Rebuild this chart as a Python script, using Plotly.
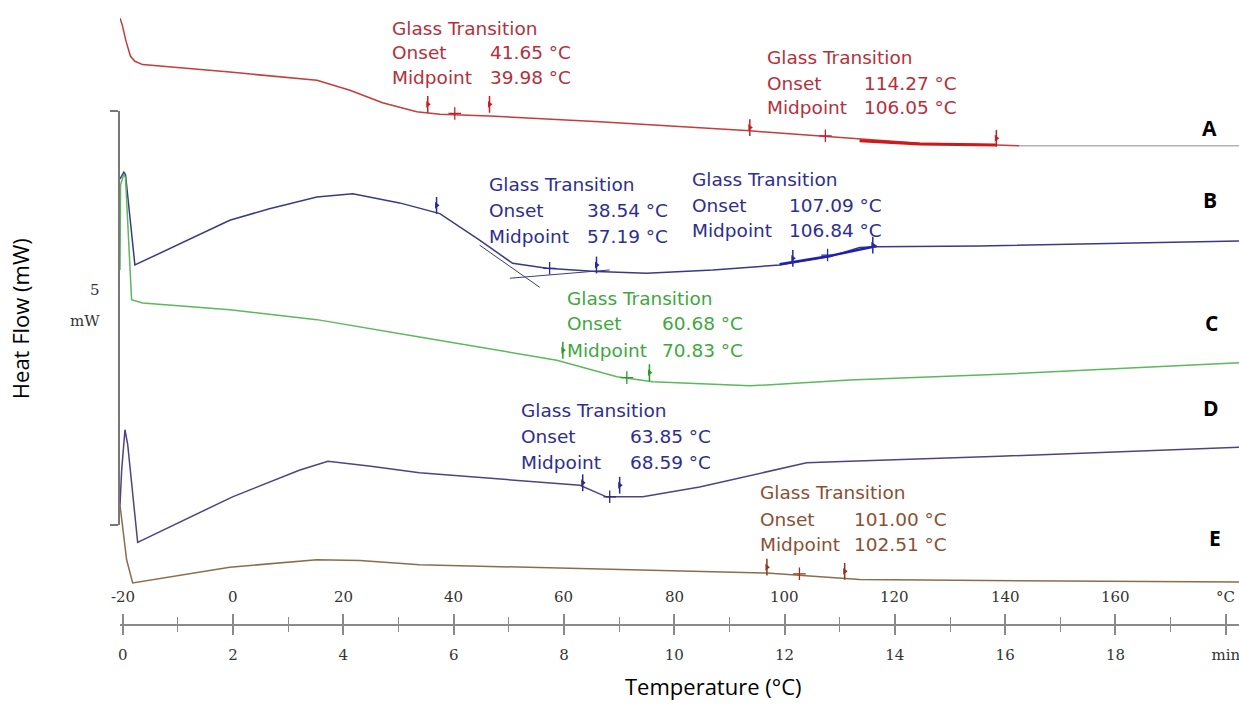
import plotly.graph_objects as go

# ---------------- data ----------------
temp_ticks = [-20, 0, 20, 40, 60, 80, 100, 120, 140, 160, 180]
temp_labels = ["-20", "0", "20", "40", "60", "80", "100", "120", "140", "160", "°C"]
time_ticks = [0, 2, 4, 6, 8, 10, 12, 14, 16, 18, 20]
time_labels = ["0", "2", "4", "6", "8", "10", "12", "14", "16", "18", "min"]

# curve A (red)
A_T = [-20.5, -20.1, -19.4, -18.6, -17.8, -16.4, -0.6, 15.2, 21.2, 27.1, 33.3, 37.5, 46.5, 66.5,
       93.7, 107.6, 124.5, 138.4, 142.6, 182.4]
A_HF = [6.12, 6.04, 5.84, 5.66, 5.60, 5.56, 5.47, 5.37, 5.25, 5.10, 4.99, 4.96, 4.94, 4.87,
        4.76, 4.69, 4.61, 4.59, 4.58, 4.58]
# curve B (navy)
B_T = [-20.5, -19.8, -19.5, -17.8, -0.6, 6.6, 15.2, 21.7, 30.2, 33.8, 37.5, 44.7, 50.7, 56.9,
       65.9, 75.0, 87.0, 99.1, 108.2, 113.6, 116.7, 135.4, 182.4]
B_HF = [4.18, 4.26, 4.23, 3.14, 3.68, 3.82, 3.96, 4.00, 3.89, 3.83, 3.76, 3.44, 3.16, 3.10,
        3.06, 3.04, 3.08, 3.14, 3.24, 3.35, 3.36, 3.37, 3.43]
# curve C (green)
C_T = [-20.5, -20.4, -19.8, -19.5, -18.4, -16.4, -0.6, 15.2, 33.8, 58.7, 69.6, 76.1, 93.7,
       111.8, 139.0, 182.4]
C_HF = [3.08, 4.11, 4.24, 4.19, 2.72, 2.68, 2.60, 2.48, 2.27, 1.99, 1.79, 1.73, 1.68,
        1.75, 1.82, 1.96]
# curve D (purple-navy)
D_T = [-20.5, -20.2, -19.6, -19.1, -17.3, -0.1, 12.0, 17.2, 25.0, 33.8, 62.9, 67.7, 74.3,
       84.6, 104.0, 111.8, 139.0, 182.4]
D_HF = [0.24, 0.66, 1.15, 0.97, -0.21, 0.34, 0.66, 0.77, 0.71, 0.63, 0.48, 0.34, 0.34,
        0.46, 0.75, 0.77, 0.83, 0.94]
# curve E (brown)
E_T = [-20.5, -19.3, -18.2, -0.6, 15.2, 23.0, 33.8, 96.8, 113.6, 182.4]
E_HF = [0.24, -0.42, -0.70, -0.51, -0.42, -0.43, -0.48, -0.58, -0.66, -0.69]

# glass-transition evaluation marks
A_flag_T = [35.3, 46.5, 93.7, 138.4]
A_flag_HF = [5.08, 5.08, 4.80, 4.67]
A_mid_T = [40.2, 107.4]
A_mid_HF = [4.97, 4.70]
A_eval_T = [113.6, 124.5, 138.4]
A_eval_HF = [4.64, 4.60, 4.59]
B_flag_T = [36.9, 65.9, 101.5, 116.0]
B_flag_HF = [3.86, 3.14, 3.22, 3.38]
B_mid_T = [57.4, 107.8]
B_mid_HF = [3.10, 3.26]
B_eval_T = [99.1, 108.2, 116.7]
B_eval_HF = [3.15, 3.25, 3.37]
B_tan1_T = [44.7, 55.6]
B_tan1_HF = [3.38, 2.87]
B_tan2_T = [50.2, 68.3]
B_tan2_HF = [2.98, 3.08]
C_flag_T = [59.8, 75.5]
C_flag_HF = [2.11, 1.84]
C_mid_T = [71.4]
C_mid_HF = [1.78]
D_flag_T = [63.4, 70.1]
D_flag_HF = [0.51, 0.48]
D_mid_T = [68.3]
D_mid_HF = [0.34]
E_flag_T = [96.8, 110.9]
E_flag_HF = [-0.51, -0.56]
E_mid_T = [102.7]
E_mid_HF = [-0.59]

# annotation text
gt_title = "Glass Transition"
A1_vals = ["41.65 °C", "39.98 °C"]
A2_vals = ["114.27 °C", "106.05 °C"]
B1_vals = ["38.54 °C", "57.19 °C"]
B2_vals = ["107.09 °C", "106.84 °C"]
C_vals = ["60.68 °C", "70.83 °C"]
D_vals = ["63.85 °C", "68.59 °C"]
E_vals = ["101.00 °C", "102.51 °C"]
curve_letters = ["A", "B", "C", "D", "E"]

# ---------------- style ----------------
A_line, A_text, A_tail = "#c43c3c", "#b5303c", "#b8b0b0"
B_line, B_text = "#3a3a84", "#2e2e90"
C_line, C_text = "#5cb85c", "#3ea83e"
D_line, D_text = "#52427f", "#2e2e90"
E_line, E_text = "#8c6d4a", "#8b5032"
axis_col = "#8a8a8a"

x_min, x_max = -20.5, 182.4

fig = go.Figure()


def curve(T, HF, color, width=1.5):
    fig.add_trace(go.Scatter(x=T, y=HF, mode="lines", line=dict(color=color, width=width),
                             hoverinfo="skip", showlegend=False))


def marks(fT, fHF, mT, mHF, color):
    fig.add_trace(go.Scatter(x=fT, y=fHF, mode="markers",
                             marker=dict(symbol="line-ns", size=12, line=dict(color=color, width=1.5)),
                             hoverinfo="skip", showlegend=False))
    fig.add_trace(go.Scatter(x=fT, y=fHF, mode="markers",
                             marker=dict(symbol="triangle-right", size=6, color=color),
                             hoverinfo="skip", showlegend=False))
    fig.add_trace(go.Scatter(x=mT, y=mHF, mode="markers",
                             marker=dict(symbol="cross-thin", size=9, line=dict(color=color, width=1.3)),
                             hoverinfo="skip", showlegend=False))


cut = A_T.index(142.6)
curve(A_T[:cut + 1], A_HF[:cut + 1], A_line)
curve(A_T[cut:], A_HF[cut:], A_tail)
curve(A_eval_T, A_eval_HF, "#d01818", 3)
curve(B_T, B_HF, B_line)
curve(B_eval_T, B_eval_HF, "#2020b0", 2.5)
curve(B_tan1_T, B_tan1_HF, B_line, 1)
curve(B_tan2_T, B_tan2_HF, B_line, 1)
curve(C_T, C_HF, C_line)
curve(D_T, D_HF, D_line)
curve(E_T, E_HF, E_line)

marks(A_flag_T, A_flag_HF, A_mid_T, A_mid_HF, "#c81e2a")
marks(B_flag_T, B_flag_HF, B_mid_T, B_mid_HF, "#2828a0")
marks(C_flag_T, C_flag_HF, C_mid_T, C_mid_HF, "#2e9a2e")
marks(D_flag_T, D_flag_HF, D_mid_T, D_mid_HF, "#2a2a80")
marks(E_flag_T, E_flag_HF, E_mid_T, E_mid_HF, "#8b3a1a")

# helper traces for the scale bar axis and the time axis
fig.add_trace(go.Scatter(x=[x_min], y=[0], yaxis="y2", mode="markers", marker=dict(opacity=0),
                         hoverinfo="skip", showlegend=False))
fig.add_trace(go.Scatter(x=[0], y=[0], xaxis="x2", mode="markers", marker=dict(opacity=0),
                         hoverinfo="skip", showlegend=False))

# glass transition text blocks
text_font = "DejaVu Sans"
blocks = [
    (28.4, 46.2, [6.00, 5.71, 5.41], A1_vals, A_text),
    (96.4, 114.0, [5.64, 5.33, 5.04], A2_vals, A_text),
    (46.0, 63.8, [4.11, 3.80, 3.49], B1_vals, B_text),
    (82.8, 100.4, [4.17, 3.86, 3.56], B2_vals, B_text),
    (60.1, 77.5, [2.74, 2.43, 2.11], C_vals, C_text),
    (51.8, 71.6, [1.38, 1.07, 0.76], D_vals, D_text),
    (95.1, 112.2, [0.39, 0.07, -0.24], E_vals, E_text),
]
for xl, xv, ys, vals, col in blocks:
    f = dict(family=text_font, size=18.5, color=col)
    for txt, yy in zip([gt_title, "Onset", "Midpoint"], ys):
        fig.add_annotation(x=xl, y=yy, text=txt, showarrow=False, xanchor="left",
                           yanchor="middle", font=f)
    for txt, yy in zip(vals, ys[1:]):
        fig.add_annotation(x=xv, y=yy, text=txt, showarrow=False, xanchor="left",
                           yanchor="middle", font=f)

letter_pos = [(177.1, 4.79), (177.1, 3.93), (177.4, 2.44), (177.4, 1.41), (178.0, -0.16)]
for L, (xx, yy) in zip(curve_letters, letter_pos):
    fig.add_annotation(x=xx, y=yy, text="<b>" + L + "</b>", showarrow=False,
                       xanchor="center", yanchor="middle",
                       font=dict(family="Open Sans", size=21, color="black"))

tick_font = dict(family="DejaVu Serif", size=15, color="#333")
# temperature tick labels sit above the axis line
for tv, tl in zip(temp_ticks, temp_labels):
    fig.add_annotation(x=tv, xref="x", yref="paper", y=0.0436, text=tl, showarrow=False,
                       xanchor="center", yanchor="middle", font=tick_font)

# scale-bar label and axis titles
fig.add_annotation(xref="paper", yref="paper", x=-0.016, y=0.540, text="5", showarrow=False,
                   xanchor="right", yanchor="middle",
                   font=dict(family="DejaVu Serif", size=15, color="#333"))
fig.add_annotation(xref="paper", yref="paper", x=-0.016, y=0.490, text="mW", showarrow=False,
                   xanchor="right", yanchor="middle",
                   font=dict(family="DejaVu Serif", size=15, color="#333"))
fig.add_annotation(xref="paper", yref="paper", x=0.530, y=-0.100, text="Temperature (°C)",
                   showarrow=False, xanchor="center", yanchor="middle",
                   font=dict(family="Open Sans", size=22, color="black"))
fig.add_annotation(xref="paper", yref="paper", x=-0.0894, y=0.494, text="Heat Flow (mW)",
                   showarrow=False, textangle=-90, xanchor="center", yanchor="middle",
                   font=dict(family="Open Sans", size=22, color="black"))

fig.update_layout(
    width=1239, height=709,
    margin=dict(l=120, r=0, t=5, b=85, autoexpand=False),
    paper_bgcolor="white", plot_bgcolor="rgba(0,0,0,0)",
    showlegend=False,
    xaxis=dict(range=[x_min, x_max], autorange=False, showgrid=False, zeroline=False,
               showline=True, linecolor=axis_col, linewidth=2, automargin=False,
               tickmode="array", tickvals=temp_ticks, ticktext=temp_labels,
               ticks="inside", ticklen=10, tickwidth=1.5, tickcolor=axis_col,
               showticklabels=False,
               minor=dict(tickmode="linear", tick0=-10, dtick=20, ticks="inside", ticklen=7,
                          tickwidth=1.3, tickcolor=axis_col),
               anchor="y"),
    xaxis2=dict(range=[(x_min + 20) / 10, (x_max + 20) / 10], autorange=False,
                overlaying="x", side="bottom", anchor="y", showgrid=False, zeroline=False,
                showline=False, automargin=False,
                tickmode="array", tickvals=time_ticks, ticktext=time_labels,
                ticks="outside", ticklen=10, tickwidth=1.5, tickcolor=axis_col,
                ticklabelstandoff=7, ticklabeloverflow="allow", tickfont=tick_font,
                minor=dict(tickmode="linear", tick0=1, dtick=2, ticks="outside", ticklen=7,
                           tickwidth=1.3, tickcolor=axis_col)),
    yaxis=dict(range=[-1.196, 6.280], autorange=False, visible=False, domain=[0, 1],
               automargin=False),
    yaxis2=dict(range=[0, 5], autorange=False, domain=[0.160, 0.829], anchor="x",
                showgrid=False, zeroline=False, showline=True, linecolor="#777", linewidth=1.5,
                ticks="outside", ticklen=8, tickwidth=1.5, tickcolor="#777", automargin=False,
                tickvals=[0, 5], showticklabels=False),
)

fig.write_html("out.html", config={"displayModeBar": False},
               post_script="document.body.style.margin='0px';")
